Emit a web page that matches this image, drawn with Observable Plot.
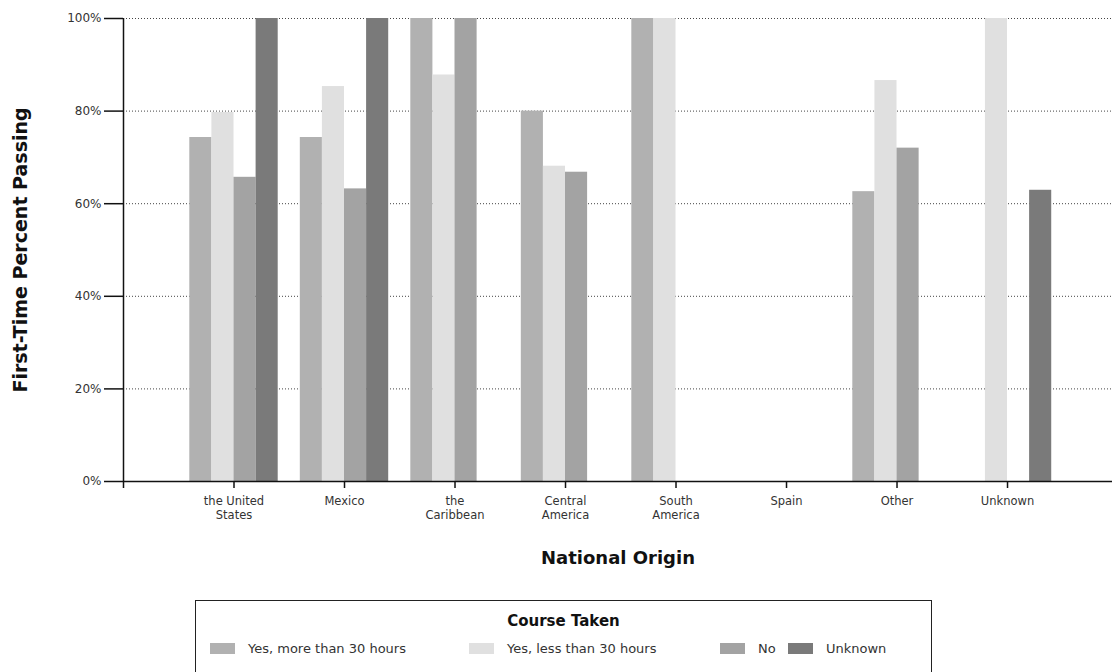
<!DOCTYPE html>
<html>
<head>
<meta charset="utf-8">
<script src="https://cdn.jsdelivr.net/npm/d3@7"></script>
<script src="https://cdn.jsdelivr.net/npm/@observablehq/plot@0.6"></script>
<style>
  html, body { margin: 0; padding: 0; background: #fff; }
  body { width: 1112px; height: 672px; overflow: hidden; position: relative; font-family: "DejaVu Sans", Arial, sans-serif; }
  #legend { position: absolute; left: 195px; top: 600px; width: 737px; height: 90px; border: 1.5px solid #222; box-sizing: border-box; }
  #legend .title { text-align: center; font-weight: bold; font-size: 15px; margin-top: 11px; color: #111; }
  #legend .row { position: relative; height: 20px; margin-top: 11px; font-size: 13px; color: #333; }
  #legend .item { position: absolute; top: 0; display: flex; align-items: center; white-space: nowrap; }
  #legend .sw { width: 25px; height: 11px; margin-right: 13px; }
</style>
</head>
<body>
<div id="chart"></div>
<div id="legend"><div class="title">Course Taken</div><div class="row" id="row"></div></div>
<script>
const categories = ["the United\nStates", "Mexico", "the\nCaribbean", "Central\nAmerica", "South\nAmerica", "Spain", "Other", "Unknown"];
const seriesNames = ["Yes, more than 30 hours", "Yes, less than 30 hours", "No", "Unknown"];
const seriesColors = ["#b1b1b1", "#e0e0e0", "#a3a3a3", "#7a7a7a"];
const moreThan30 = [74.3, 74.3, 100, 80.0, 100, null, 62.6, null];
const lessThan30 = [79.7, 85.3, 87.8, 68.1, 100, null, 86.6, 100];
const noCourse = [65.7, 63.2, 100, 66.8, null, null, 72.0, null];
const unknownCourse = [100, 100, null, null, null, null, null, 62.9];
const yTicks = [0, 20, 40, 60, 80, 100];

const seriesValues = [moreThan30, lessThan30, noCourse, unknownCourse];
const data = [];
categories.forEach((c, i) => {
  seriesValues.forEach((vals, j) => {
    if (vals[i] != null) {
      const pos = i + 1;
      data.push({category: c, series: seriesNames[j], value: vals[i], x1: pos - 0.4 + 0.2 * j, x2: pos - 0.2 + 0.2 * j});
    }
  });
});

const chart = Plot.plot({
  width: 1112,
  height: 590,
  marginLeft: 123,
  marginRight: 0,
  marginTop: 18,
  marginBottom: 109,
  style: {fontFamily: "DejaVu Sans, Arial, sans-serif", color: "#333", background: "#fff"},
  x: {type: "linear", domain: [0, 8.95]},
  y: {domain: [0, 100]},
  color: {domain: seriesNames, range: seriesColors},
  marks: [
    Plot.ruleY(yTicks.filter(d => d > 0), {stroke: "#444", strokeDasharray: "1,2", strokeWidth: 1}),
    Plot.rectY(data, {x1: "x1", x2: "x2", y1: 0, y2: "value", fill: "series"}),
    Plot.ruleY([0], {stroke: "#111", strokeWidth: 1.5}),
    Plot.ruleX([0], {stroke: "#111", strokeWidth: 1.5, y1: -1.5, y2: 100}),
    Plot.axisY({ticks: yTicks, tickFormat: d => d + "%", tickSize: 19, tickPadding: 3, fontSize: 12, stroke: "#111", strokeWidth: 1.5, label: null}),
    Plot.axisX({ticks: d3.range(1, categories.length + 1), tickFormat: i => categories[i - 1], tickSize: 7, tickPadding: 6, fontSize: 11.5, lineHeight: 1.25, stroke: "#111", strokeWidth: 1.5, label: null}),
    Plot.text(["National Origin"], {frameAnchor: "bottom", dy: 82, fontWeight: "bold", fontSize: 18, fill: "#111"}),
    Plot.text(["First-Time Percent Passing"], {frameAnchor: "left", textAnchor: "middle", dx: -103, rotate: -90, fontWeight: "bold", fontSize: 19, fill: "#111"})
  ]
});
document.getElementById("chart").appendChild(chart);

const row = document.getElementById("row");
const itemLefts = [14, 273, 524, 592];
seriesNames.forEach((name, j) => {
  const it = document.createElement("div");
  it.className = "item";
  it.style.left = itemLefts[j] + "px";
  it.innerHTML = `<span class="sw" style="background:${seriesColors[j]}"></span><span>${name}</span>`;
  row.appendChild(it);
});
</script>
</body>
</html>
